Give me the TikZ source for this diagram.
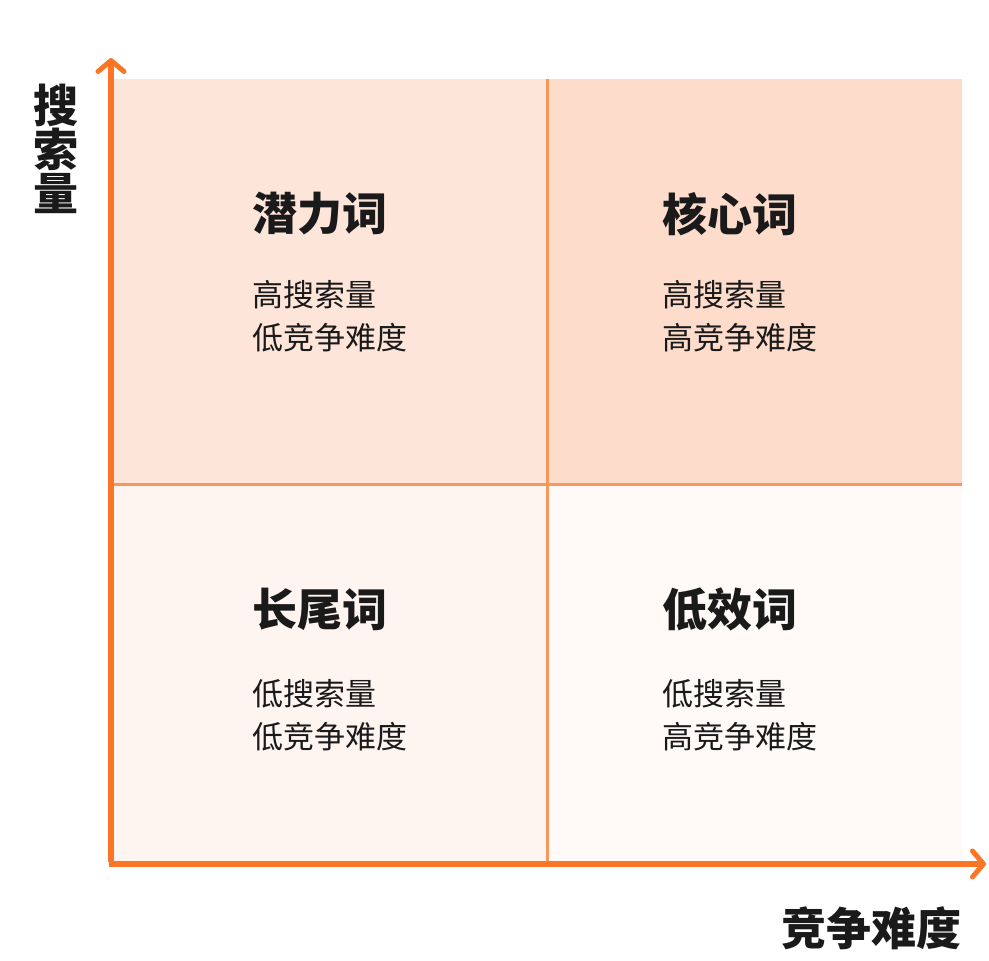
\documentclass[tikz,border=0pt]{standalone}
\usepackage{fontspec}
\setmainfont{Noto Sans CJK SC}
\newfontfamily\cjk{Noto Sans CJK SC}
\usetikzlibrary{arrows.meta}
\definecolor{axisor}{HTML}{FA7525}
\definecolor{gridor}{HTML}{F9965A}
\definecolor{qtl}{HTML}{FDE5DA}
\definecolor{qtr}{HTML}{FDDCCB}
\definecolor{qbl}{HTML}{FEF4F0}
\definecolor{qbr}{HTML}{FFFAF8}
\definecolor{txt}{HTML}{1A1A1A}
\tikzset{
  title/.style={anchor=west, font=\cjk\bfseries\fontsize{45}{48}\selectfont, text=txt, inner sep=0pt},
  sub/.style={anchor=north west, font=\cjk\fontsize{31}{43}\selectfont, text=txt, inner sep=0pt, align=left},
  axislabel/.style={font=\cjk\bfseries\fontsize{45}{46}\selectfont, text=txt, inner sep=0pt, align=center},
  axisline/.style={draw=axisor, line width=5.5pt, -{Straight Barb[length=11pt, width=26pt, line width=5pt, round]}},
  gridline/.style={draw=gridor, line width=3pt}
}
\begin{document}
\begin{tikzpicture}[x=1pt,y=-1pt]
\useasboundingbox (0,0) rectangle (989,961);
% quadrants
\fill[qtl] (112,79) rectangle (547,484);
\fill[qtr] (547,79) rectangle (962,484);
\fill[qbl] (112,484) rectangle (547,864);
\fill[qbr] (547,484) rectangle (962,864);
% grid lines
\coordinate (vt) at (547,79);
\coordinate (vb) at (547,864);
\coordinate (hl) at (112,484);
\coordinate (hr) at (962,484);
\draw[gridline] (vt) -- (vb);
\draw[gridline] (hl) -- (hr);
% axes
\coordinate (origin) at (111,864);
\coordinate (ytip) at (111,58);
\coordinate (xtip) at (986,864);
\draw[axisline] ([yshift=2.5pt]origin) -- (ytip);
\draw[axisline] ([xshift=-2.5pt]origin) -- (xtip);
% axis labels
\node[axislabel] (ylab) at (56,149) {搜\\[-2pt]索\\[-2pt]量};
\node[axislabel, anchor=east] (xlab) at (962,928) {竞争难度};
% quadrant texts
\node[title] (t1) at (252,214) {潜力词};
\node[sub] (s1) at (252,280) {高搜索量\\低竞争难度};
\node[title] (t2) at (662,214) {核心词};
\node[sub] (s2) at (662,280) {高搜索量\\高竞争难度};
\node[title] (t3) at (252,609) {长尾词};
\node[sub] (s3) at (252,679) {低搜索量\\低竞争难度};
\node[title] (t4) at (662,609) {低效词};
\node[sub] (s4) at (662,679) {低搜索量\\高竞争难度};
\end{tikzpicture}
\end{document}
